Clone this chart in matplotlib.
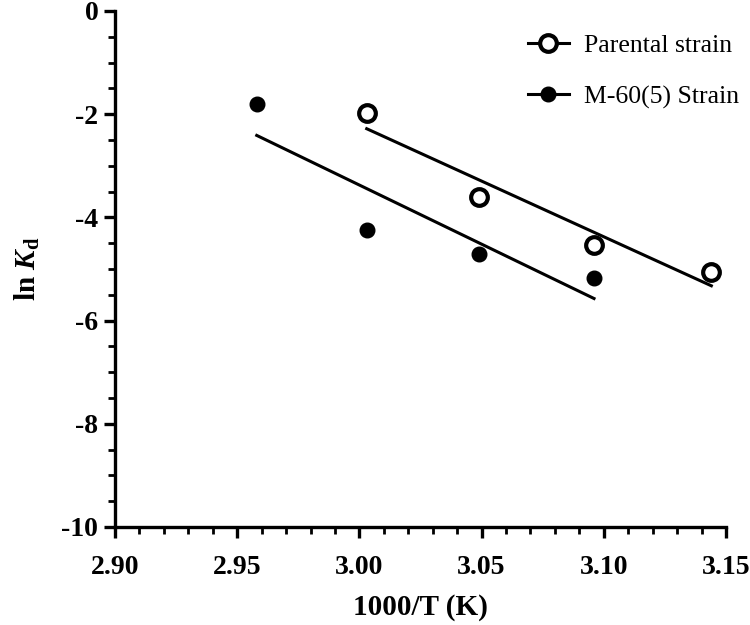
import numpy as np
import matplotlib
matplotlib.use("Agg")
import matplotlib.pyplot as plt
from matplotlib.ticker import MultipleLocator, FormatStrFormatter

# data
x_parental = [3.003, 3.049, 3.096, 3.144]
y_parental = [-1.98, -3.60, -4.53, -5.06]
x_mutant = [2.958, 3.003, 3.049, 3.096]
y_mutant = [-1.80, -4.24, -4.71, -5.17]

plt.rcParams['font.family'] = ['Liberation Serif', 'DejaVu Serif']
plt.rcParams['axes.unicode_minus'] = False
plt.rcParams['mathtext.fontset'] = 'custom'
plt.rcParams['mathtext.rm'] = 'Liberation Serif'
plt.rcParams['mathtext.it'] = 'Liberation Serif:italic:bold'
plt.rcParams['mathtext.bf'] = 'Liberation Serif:bold'

fig = plt.figure(figsize=(7.5, 6.25), dpi=100)
ax = fig.add_axes([0.1533, 0.1568, 0.8147, 0.8256])

# fitted lines
for xs, ys in [(x_parental, y_parental), (x_mutant, y_mutant)]:
    m, b = np.polyfit(xs, ys, 1)
    xx = np.array([min(xs), max(xs)])
    ax.plot(xx, m * xx + b, color='black', lw=2.2, zorder=2)

ax.plot(x_parental, y_parental, 'o', ms=12, mfc='white', mec='black', mew=3.0,
        color='black', lw=2.2, zorder=3)
ax.plot(x_mutant, y_mutant, 'o', ms=10.5, color='black', lw=2.2, zorder=3)

# legend handles with line through marker
h1, = ax.plot([], [], '-o', ms=12, mfc='white', mec='black', mew=3.0, color='black', lw=2.2)
h2, = ax.plot([], [], '-o', ms=10.5, color='black', lw=2.2)
ax.legend([h1, h2], ['Parental strain', 'M-60(5) Strain'], loc='upper right',
          bbox_to_anchor=(1.06, 1.0), frameon=False, fontsize=18.5, handlelength=1.6,
          handletextpad=0.6, labelspacing=1.1)

ax.set_xlim(2.90, 3.15)
ax.set_ylim(-10, 0)
ax.xaxis.set_major_locator(MultipleLocator(0.05))
ax.xaxis.set_minor_locator(MultipleLocator(0.01))
ax.xaxis.set_major_formatter(FormatStrFormatter('%.2f'))
ax.yaxis.set_major_locator(MultipleLocator(2))
ax.yaxis.set_minor_locator(MultipleLocator(0.5))

for s in ['top', 'right']:
    ax.spines[s].set_visible(False)
for s in ['left', 'bottom']:
    ax.spines[s].set_linewidth(2.4)

ax.tick_params(which='major', direction='out', length=8, width=2.4, labelsize=20)
ax.tick_params(axis='x', which='major', pad=12)
ax.tick_params(axis='y', which='major', pad=4)
ax.tick_params(which='minor', direction='out', length=5, width=2.0)
for lab in ax.get_xticklabels() + ax.get_yticklabels():
    lab.set_fontweight('bold')

ax.set_xlabel('1000/T (K)', fontsize=21, fontweight='bold', labelpad=10)
ax.set_ylabel(r'$\mathbf{ln}\ K_{\mathbf{d}}$', fontsize=21, labelpad=14)

fig.savefig('out.png', dpi=100)
